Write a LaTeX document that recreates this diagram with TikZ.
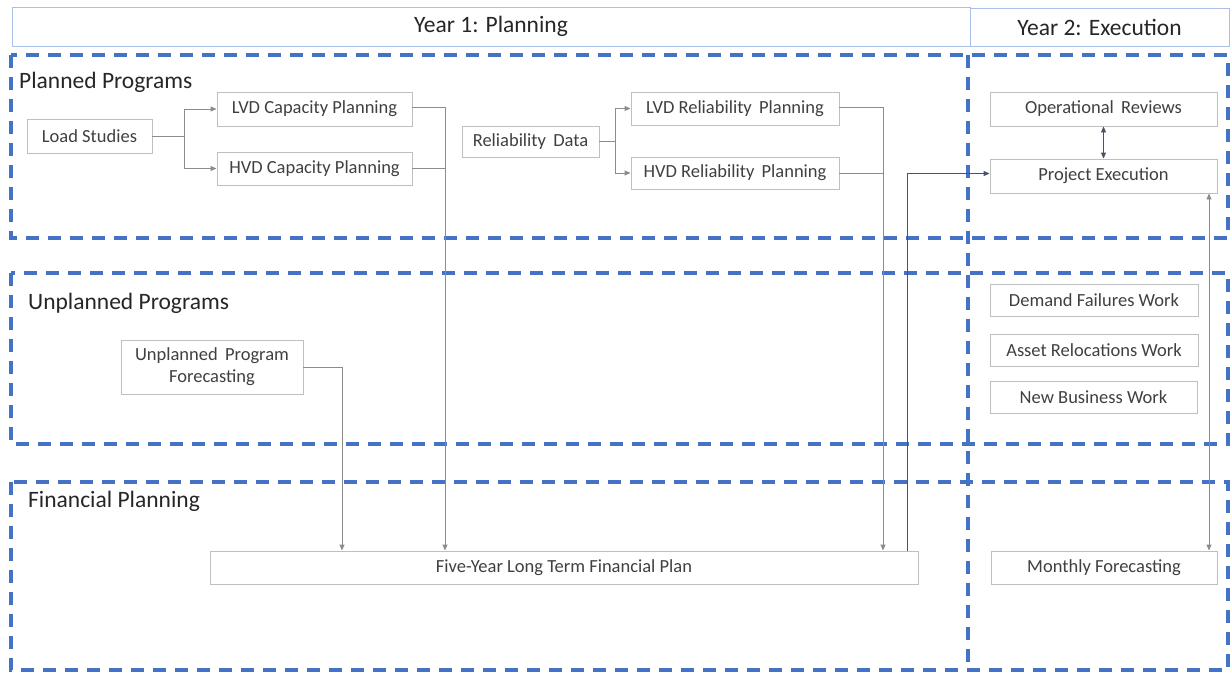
\documentclass[tikz,border=0pt]{standalone}
\usepackage{fontspec}
\setmainfont{Carlito}
\usetikzlibrary{arrows.meta}
\definecolor{grpblue}{HTML}{4472C4}
\definecolor{hdrblue}{HTML}{A9C0E6}
\definecolor{boxgray}{HTML}{BFBFBF}
\definecolor{textgray}{HTML}{404040}
\definecolor{headtext}{HTML}{262626}
\definecolor{conngray}{HTML}{8C8C8C}
\definecolor{darkconn}{HTML}{44546A}
\tikzset{
  grp/.style={draw=grpblue, line width=3.5pt, dash pattern=on 13pt off 9pt},
  hdr/.style={draw=hdrblue, line width=0.9pt, text=headtext, inner sep=0pt, font=\fontsize{23.5}{28}\selectfont},
  grplabel/.style={anchor=west, text=headtext, inner sep=0pt, font=\fontsize{23.5}{28}\selectfont},
  box/.style={draw=boxgray, fill=white, line width=0.9pt, text=textgray, inner sep=0pt, align=center, font=\fontsize{18.5}{22}\selectfont},
  conn/.style={draw=conngray, line width=0.9pt, -{Triangle[length=6pt,width=5pt]}},
  connline/.style={draw=conngray, line width=0.9pt},
  dconn/.style={draw=darkconn, line width=0.9pt, -{Triangle[length=6pt,width=5pt]}},
  dboth/.style={draw=darkconn, line width=0.9pt, {Triangle[length=6pt,width=5pt]}-{Triangle[length=6pt,width=5pt]}},
  gboth/.style={draw=conngray, line width=0.9pt, {Triangle[length=6pt,width=5pt]}-{Triangle[length=6pt,width=5pt]}},
}
\begin{document}
\begin{tikzpicture}[x=1pt,y=-1pt]
\useasboundingbox (0,0) rectangle (1231,673);
% headers
\node[hdr, minimum width=958pt, minimum height=39pt] (y1) at (491,26.5) {Year 1: Planning};
\node[hdr, minimum width=259pt, minimum height=38pt] (y2) at (1099.5,27) {Year 2: Execution};
% group boxes
\draw[grp] (11,55) rectangle (1228,238);
\draw[grp] (11,273) rectangle (1228,444);
\draw[grp] (11,482) rectangle (1228,670);
\draw[grp] (968,55) -- (968,670);
% group labels
\node[grplabel] (gp) at (19,82) {Planned Programs};
\node[grplabel] (gu) at (28,303) {Unplanned Programs};
\node[grplabel] (gf) at (28,501) {Financial Planning};
% nodes
\node[box, minimum width=125pt, minimum height=34pt] (ls) at (89.5,136) {Load Studies};
\node[box, minimum width=195pt, minimum height=34pt] (lvdc) at (314.5,109) {LVD Capacity Planning};
\node[box, minimum width=195pt, minimum height=33pt] (hvdc) at (314.5,168.5) {HVD Capacity Planning};
\node[box, minimum width=137pt, minimum height=31pt] (rd) at (530.5,141.5) {Reliability\ \,Data};
\node[box, minimum width=208pt, minimum height=33pt] (lvdr) at (735,108.5) {LVD Reliability\ \,Planning};
\node[box, minimum width=208pt, minimum height=32pt] (hvdr) at (735,173) {HVD Reliability\ \,Planning};
\node[box, minimum width=227pt, minimum height=34pt] (opr) at (1103.5,109) {Operational\ \,Reviews};
\node[box, minimum width=227pt, minimum height=34pt] (pe) at (1103.5,176) {Project Execution};
\node[box, minimum width=208pt, minimum height=32pt] (dfw) at (1094,300) {Demand Failures Work};
\node[box, minimum width=208pt, minimum height=32pt] (arw) at (1094,350) {Asset Relocations Work};
\node[box, minimum width=207pt, minimum height=32pt] (nbw) at (1093.5,397) {New Business Work};
\node[box, minimum width=182pt, minimum height=54pt] (upf) at (212,367) {Unplanned\ \,Program\\Forecasting};
\node[box, minimum width=708pt, minimum height=33pt] (flp) at (564,567.5) {Five-Year Long Term Financial Plan};
\node[box, minimum width=226pt, minimum height=33pt] (mf) at (1104,567.5) {Monthly Forecasting};
% helper x positions
\coordinate (vA) at (445,0);
\coordinate (vB) at (342,0);
\coordinate (vC) at (883,0);
\coordinate (vD) at (907,0);
\coordinate (vE) at (1209,0);
% connectors
\draw[connline] (ls.east) -- ++(32,0) coordinate (j1);
\draw[conn] (j1) |- (lvdc.west);
\draw[conn] (j1) |- (hvdc.west);
\draw[connline] (rd.east) -- ++(16,0) coordinate (j2);
\draw[conn] (j2) |- (lvdr.west);
\draw[conn] (j2) |- (hvdr.west);
\draw[conn] ([yshift=1.5pt]lvdc.east) -| (flp.north -| vA);
\draw[connline] (hvdc.east) -- (hvdc.east -| vA);
\draw[conn] (upf.east) -| (flp.north -| vB);
\draw[conn] ([yshift=1.5pt]lvdr.east) -| (flp.north -| vC);
\draw[connline] (hvdr.east) -- (hvdr.east -| vC);
\draw[dconn] (flp.north -| vD) |- ([yshift=2.5pt]pe.west);
\draw[dboth] (opr) -- (pe);
\draw[gboth] (pe.south -| vE) -- (mf.north -| vE);
\end{tikzpicture}
\end{document}
